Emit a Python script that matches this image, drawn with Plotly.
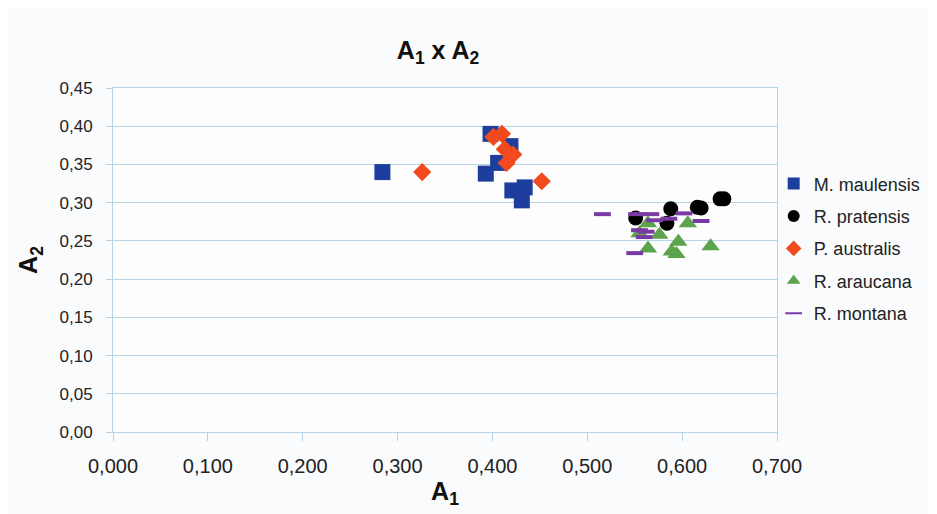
import plotly.graph_objects as go

# Data (A1, A2)
maulensis_x = [0.284, 0.398, 0.419, 0.406, 0.393, 0.421, 0.434, 0.431]
maulensis_y = [0.340, 0.390, 0.374, 0.352, 0.338, 0.316, 0.320, 0.303]

pratensis_x = [0.551, 0.588, 0.584, 0.616, 0.620, 0.640, 0.644]
pratensis_y = [0.280, 0.292, 0.273, 0.294, 0.293, 0.305, 0.305]

australis_x = [0.326, 0.401, 0.410, 0.413, 0.422, 0.415, 0.452]
australis_y = [0.340, 0.386, 0.390, 0.370, 0.363, 0.352, 0.328]

araucana_x = [0.564, 0.555, 0.576, 0.564, 0.596, 0.589, 0.594, 0.606, 0.630]
araucana_y = [0.273, 0.260, 0.258, 0.240, 0.249, 0.236, 0.233, 0.273, 0.243]

montana_x = [0.516, 0.552, 0.567, 0.571, 0.586, 0.602, 0.620, 0.555, 0.562, 0.560, 0.550]
montana_y = [0.285, 0.285, 0.285, 0.277, 0.279, 0.286, 0.276, 0.264, 0.262, 0.255, 0.234]

x_ticks = [0.0, 0.1, 0.2, 0.3, 0.4, 0.5, 0.6, 0.7]
y_ticks = [0.00, 0.05, 0.10, 0.15, 0.20, 0.25, 0.30, 0.35, 0.40, 0.45]

grid_col = "#b4d6e4"
font_fam = "Liberation Sans, Arial, sans-serif"

fig = go.Figure()

fig.add_trace(go.Scatter(
    x=maulensis_x, y=maulensis_y, mode="markers", name="M. maulensis",
    legendgroup="a",
    marker=dict(symbol="square", size=16, color="#1d3e9c", line=dict(width=0))))
fig.add_trace(go.Scatter(
    x=pratensis_x, y=pratensis_y, mode="markers", name="R. pratensis",
    legendgroup="b",
    marker=dict(symbol="circle", size=15, color="#000000", line=dict(width=0))))
fig.add_trace(go.Scatter(
    x=australis_x, y=australis_y, mode="markers", name="P. australis",
    legendgroup="c",
    marker=dict(symbol="diamond", size=14, color="#f04a1e", line=dict(width=0))))
fig.add_trace(go.Scatter(
    x=araucana_x, y=araucana_y, mode="markers", name="R. araucana",
    legendgroup="d",
    marker=dict(symbol="triangle-up", size=16, color="#5ba44c", line=dict(width=0))))
fig.add_trace(go.Scatter(
    x=montana_x, y=montana_y, mode="markers", name="R. montana",
    legendgroup="e",
    marker=dict(symbol="line-ew", size=12, color="#7a3aa6",
                line=dict(width=4, color="#7a3aa6"))))

fig.update_layout(
    width=937, height=514,
    margin=dict(l=105, r=168, t=80, b=90),
    paper_bgcolor="#fafbfc",
    plot_bgcolor="#fdfdfd",
    font=dict(family=font_fam, size=17, color="#222222"),
    separators=",.",
    title=dict(text="<b>A<sub>1</sub> x A<sub>2</sub></b>", x=0.459, xanchor="center",
               xref="container", yref="container",
               y=0.918, yanchor="middle", font=dict(size=25, color="#111111")),
    showlegend=True,
    legend=dict(x=0.995, xanchor="left", y=0.775, yanchor="top",
                font=dict(size=18, color="#222222"),
                bgcolor="rgba(0,0,0,0)", tracegroupgap=6, itemsizing="constant",
                itemwidth=30),
    xaxis=dict(range=[0, 0.7], tickvals=x_ticks, tickformat=".3f",
               showgrid=False, zeroline=False,
               showline=True, linecolor=grid_col, linewidth=1, mirror=True,
               ticks="outside", ticklen=8, tickcolor=grid_col,
               ticklabelstandoff=8,
               title=dict(text="<b>A<sub>1</sub></b>", font=dict(size=25, color="#111111"),
                          standoff=6),
               tickfont=dict(size=20)),
    yaxis=dict(range=[0, 0.45], tickvals=y_ticks, tickformat=".2f",
               showgrid=True, gridcolor=grid_col, gridwidth=1, zeroline=False,
               showline=True, linecolor=grid_col, linewidth=1, mirror=True,
               ticks="outside", ticklen=6, tickcolor=grid_col,
               ticklabelstandoff=10,
               title=dict(text="<b>A<sub>2</sub></b>", font=dict(size=25, color="#111111"),
                          standoff=14),
               tickfont=dict(size=17)),
)

fig.write_html("out.html")
